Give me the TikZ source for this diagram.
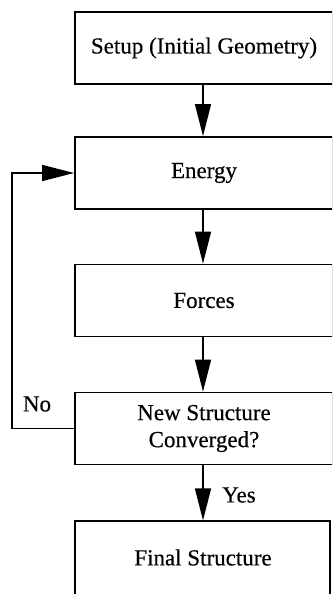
\documentclass[tikz,border=0pt]{standalone}
\usepackage{fontspec}
\setmainfont[FakeBold=0.4]{Liberation Serif}
\usetikzlibrary{arrows.meta}
\begin{document}
\begin{tikzpicture}[x=1bp,y=-1bp,
  stepbox/.style={draw,line width=1.8bp,minimum width=258bp,minimum height=72bp,
    inner sep=0pt,align=center,font=\fontsize{23bp}{27bp}\selectfont},
  flow/.style={line width=1.4bp,-{Triangle[length=32bp,width=16bp]}},
  lbl/.style={font=\fontsize{23bp}{27bp}\selectfont,inner sep=0pt}]
  \useasboundingbox (0,0) rectangle (332,594);
  \clip (0,0) rectangle (332,594);
  % process boxes (they run on past the right-hand margin)
  \node[stepbox] (setup)  at (204,48)    {Setup (Initial Geometry)};
  \node[stepbox] (energy) at (204,173)   {Energy};
  \node[stepbox] (forces) at (204,300.5) {Forces};
  \node[stepbox] (conv)   at (204,428.5) {New Structure\\Converged?};
  \node[stepbox,line width=1.2bp,minimum width=255bp,minimum height=76bp] (final) at (202.5,559) {};
  \draw[line width=1.8bp] (final.north west) -- (final.north east);
  \node[lbl] (finaltxt) at (203,557.5) {Final Structure};
  % main flow
  \draw[flow] (setup.south -| 203,0)  -- (energy.north -| 203,0);
  \draw[flow] (energy.south -| 203,0) -- (forces.north -| 203,0);
  \draw[flow] (forces.south -| 203,0) -- (conv.north -| 203,0);
  \draw[flow] (conv.south -| 203,0)   -- (final.north -| 203,0);
  % feedback loop
  \coordinate (loop) at (12,0);
  \draw[flow] (conv.west) -- (conv.west -| loop) |- (energy.west);
  % branch labels
  \node[lbl] (no)  at (37,404)  {No};
  \node[lbl] (yes) at (239,495) {Yes};
\end{tikzpicture}
\end{document}
